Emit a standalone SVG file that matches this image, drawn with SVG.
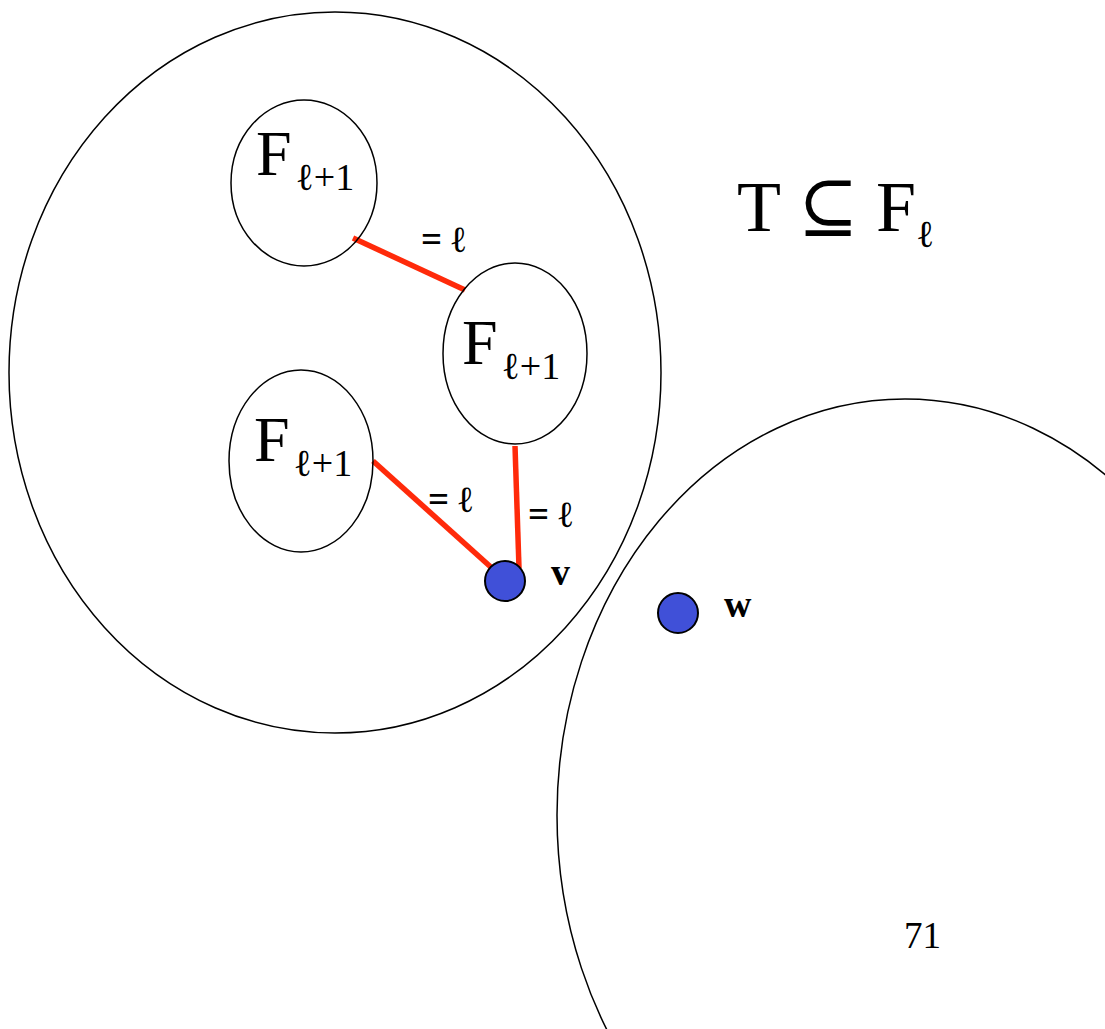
<svg xmlns="http://www.w3.org/2000/svg" width="1105" height="1029" viewBox="0 0 1105 1029">
<style>
.o{fill:none;stroke:#000;stroke-width:1.5}
.e{stroke:#ff2a0a;stroke-width:5.5;fill:none}
.n{fill:#4050d8;stroke:#000;stroke-width:2}
.t{font-family:"Liberation Serif","DejaVu Serif",serif;fill:#000}
.b{font-family:"Liberation Serif","DejaVu Serif",serif;font-weight:bold;font-size:38px;fill:#000}
.l{font-family:"Liberation Serif","DejaVu Serif",serif;font-weight:bold;font-size:37px;fill:#000}
</style>
<rect width="1105" height="1029" fill="#fff"/>
<g id="regionT"><ellipse class="o" cx="335" cy="372.5" rx="326" ry="360.5"/></g>
<g id="regionW"><ellipse class="o" cx="905" cy="815" rx="348" ry="416"/></g>
<g id="connectors">
<line class="e" x1="353" y1="238" x2="465" y2="290"/>
<line class="e" x1="373" y1="461" x2="493" y2="569"/>
<line class="e" x1="515" y1="446" x2="519" y2="568"/>
</g>
<g id="F1"><ellipse class="o" cx="304" cy="183" rx="73" ry="83"/>
<text class="t" x="256" y="175" font-size="64">F<tspan font-size="38" dx="4" dy="15">ℓ+1</tspan></text></g>
<g id="F2"><ellipse class="o" cx="515" cy="353.5" rx="72" ry="90.5"/>
<text class="t" x="462" y="364" font-size="64">F<tspan font-size="38" dx="4" dy="15">ℓ+1</tspan></text></g>
<g id="F3"><ellipse class="o" cx="301" cy="461" rx="72" ry="91"/>
<text class="t" x="254" y="461" font-size="64">F<tspan font-size="38" dx="4" dy="15">ℓ+1</tspan></text></g>
<g id="v"><circle class="n" cx="505" cy="581" r="20"/><text class="b" x="551" y="585">v</text></g>
<g id="w"><circle class="n" cx="678" cy="613" r="20"/><text class="b" x="724" y="617">w</text></g>
<g id="labels">
<text class="l" x="421" y="252">= ℓ</text>
<text class="l" x="428" y="512">= ℓ</text>
<text class="l" x="528" y="527">= ℓ</text>
<text class="t" x="737" y="231" font-size="72">T ⊆ F<tspan font-size="38" dy="16">ℓ</tspan></text>
<text class="t" x="904" y="948" font-size="37">71</text>
</g>
</svg>
